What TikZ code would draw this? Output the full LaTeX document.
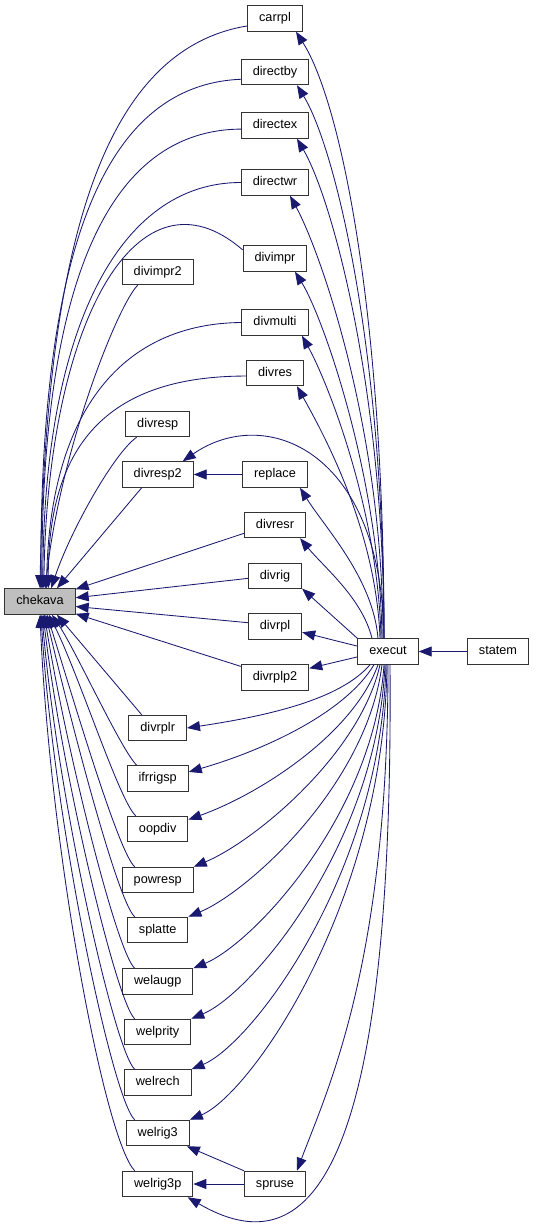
\documentclass[tikz,border=0pt]{standalone}
\usepackage{fontspec}
\setmainfont{Liberation Sans}
\usetikzlibrary{arrows.meta}
\definecolor{edgeblue}{HTML}{191970}
\definecolor{focusgray}{HTML}{BFBFBF}

\begin{document}
\begin{tikzpicture}[x=1pt,y=-1pt,
  fn/.style={draw=black!80,line width=1pt,fill=white,minimum height=25.5pt,
    inner xsep=11.5pt,inner ysep=0pt,text height=9pt,text depth=2.5pt,
    font=\fontsize{12.7}{14}\selectfont},
  call/.style={draw=edgeblue,line width=0.85pt,-{Triangle[length=13pt,width=10pt,color=edgeblue]}}]
\useasboundingbox (0,0) rectangle (535,1230);
% functions
\node[fn,fill=focusgray] (chekava) at (40,601.5) {chekava};
\node[fn] (carrpl) at (275,18.5) {carrpl};
\node[fn] (directby) at (275,72) {directby};
\node[fn] (directex) at (275,125.5) {directex};
\node[fn] (directwr) at (275,182.5) {directwr};
\node[fn] (divimpr) at (275,258.5) {divimpr};
\node[fn] (divimpr2) at (157.7,272) {divimpr2};
\node[fn] (divmulti) at (275,322.5) {divmulti};
\node[fn] (divres) at (275,373) {divres};
\node[fn] (divresp) at (157.7,424) {divresp};
\node[fn] (divresp2) at (157.7,474.5) {divresp2};
\node[fn] (replace) at (275,474.5) {replace};
\node[fn] (divresr) at (275,525) {divresr};
\node[fn] (divrig) at (275,576) {divrig};
\node[fn] (divrpl) at (275,626.5) {divrpl};
\node[fn] (execut) at (388,651.5) {execut};
\node[fn] (statem) at (498,651.5) {statem};
\node[fn] (divrplp2) at (275,677.5) {divrplp2};
\node[fn] (divrplr) at (157.7,728) {divrplr};
\node[fn] (ifrrigsp) at (157.7,778.5) {ifrrigsp};
\node[fn] (oopdiv) at (157.7,829) {oopdiv};
\node[fn] (powresp) at (157.7,880) {powresp};
\node[fn] (splatte) at (157.7,930) {splatte};
\node[fn] (welaugp) at (157.7,981.5) {welaugp};
\node[fn] (welprity) at (157.7,1032) {welprity};
\node[fn] (welrech) at (157.7,1082.5) {welrech};
\node[fn] (welrig3) at (157.7,1133) {welrig3};
\node[fn] (welrig3p) at (157.7,1184) {welrig3p};
\node[fn] (spruse) at (275,1184) {spruse};
% callers of chekava
\draw[call] (carrpl.195) .. controls +(-146,24) and +(6,-339) .. (chekava.90);
\draw[call] (directby.192) .. controls +(-141,6) and +(-1,-329) .. (chekava.86);
\draw[call] (directex.186) .. controls +(-131,1) and +(0,-309) .. (chekava.82);
\draw[call] (directwr.west) .. controls +(-122,0) and +(1,-259) .. (chekava.78);
\draw[call] (divimpr.165) .. controls +(-104,-90) and +(4,-269) .. (chekava.74);
\draw[call] ([xshift=-20]divimpr2.south) .. controls +(-20,20) and +(15,-139) .. (chekava.68);
\draw[call] (divmulti.west) .. controls +(-118,1) and +(4,-179) .. (chekava.64);
\draw[call] (divres.186) .. controls +(-133,0) and +(0,-149) .. (chekava.58);
\draw[call] ([xshift=-21]divresp.south) .. controls +(-22,15) and +(20,-59) .. (chekava.50);
\draw[call] ([xshift=-16]divresp2.south) -- (chekava.38);
\draw[call] (divresr.195) -- (chekava.19);
\draw[call] (divrig.185) -- (chekava.6);
\draw[call] (divrpl.172) -- (chekava.-8);
\draw[call] (divrplp2.162) -- (chekava.-19);
\draw[call] ([xshift=-16]divrplr.north) -- (chekava.-38);
\draw[call] ([xshift=-21]ifrrigsp.north) .. controls +(-16,-16) and +(24,36) .. (chekava.-48);
\draw[call] ([xshift=-22]oopdiv.north) .. controls +(-16,-14) and +(30,60) .. (chekava.-56);
\draw[call] ([xshift=-23]powresp.north) .. controls +(-16,-14) and +(28,90) .. (chekava.-62);
\draw[call] ([xshift=-23]splatte.north) .. controls +(-17,-15) and +(26,110) .. (chekava.-67);
\draw[call] ([xshift=-23]welaugp.north) .. controls +(-18,-16) and +(22,135) .. (chekava.-72);
\draw[call] ([xshift=-23]welprity.north) .. controls +(-18,-16) and +(19,160) .. (chekava.-77);
\draw[call] ([xshift=-23]welrech.north) .. controls +(-20,-18) and +(16,185) .. (chekava.-82);
\draw[call] ([xshift=-23]welrig3.north) .. controls +(-22,-20) and +(13,210) .. (chekava.-86);
\draw[call] ([xshift=-23]welrig3p.north) .. controls +(-30,-31) and +(10,236) .. (chekava.-90);
% callers reached from execut
\draw[call] ([xshift=-4]execut.north) .. controls +(0,-330) and +(44,69) .. ([xshift=21]carrpl.south);
\draw[call] ([xshift=-4]execut.north) .. controls +(0,-290) and +(38,62) .. ([xshift=22]directby.south);
\draw[call] ([xshift=-4]execut.north) .. controls +(0,-250) and +(35,60) .. ([xshift=22]directex.south);
\draw[call] ([xshift=-5]execut.north) .. controls +(0,-210) and +(30,55) .. ([xshift=15]directwr.south);
\draw[call] ([xshift=-6]execut.north) .. controls +(-2,-160) and +(28,45) .. ([xshift=20]divimpr.south);
\draw[call] ([xshift=-7]execut.north) .. controls +(-3,-130) and +(25,45) .. ([xshift=27]divmulti.south);
\draw[call] ([xshift=-8]execut.north) .. controls +(-4,-110) and +(25,45) .. ([xshift=22]divres.south);
\draw[call] ([xshift=-4]execut.north) .. controls +(-2,-189) and +(82,-57) .. ([xshift=25]divresp2.north);
\draw[call] ([xshift=-10]execut.north) .. controls +(-5,-60) and +(25,40) .. ([xshift=25]replace.south);
\draw[call] ([xshift=-16]execut.north) .. controls +(-10,-40) and +(25,30) .. ([xshift=25]divresr.south);
\draw[call] (execut.north west) -- (divrig.-25);
\draw[call] (execut.170) -- (divrpl.-12);
\draw[call] (execut.190) -- (divrplp2.15);
\draw[call] ([xshift=-18]execut.south) .. controls +(-30,35) and +(80,-12) .. (divrplr.east);
\draw[call] ([xshift=-14]execut.south) .. controls +(-30,50) and +(70,-20) .. (ifrrigsp.12);
\draw[call] ([xshift=-10]execut.south) .. controls +(-25,70) and +(70,-25) .. (oopdiv.17);
\draw[call] ([xshift=-8]execut.south) .. controls +(-20,90) and +(60,-25) .. (powresp.north east);
\draw[call] ([xshift=-6]execut.south) .. controls +(-15,120) and +(60,-25) .. (splatte.north east);
\draw[call] ([xshift=-4]execut.south) .. controls +(-10,150) and +(60,-25) .. (welaugp.north east);
\draw[call] ([xshift=-3]execut.south) .. controls +(-8,180) and +(60,-25) .. (welprity.north east);
\draw[call] ([xshift=-2]execut.south) .. controls +(-5,210) and +(60,-25) .. (welrech.north east);
\draw[call] ([xshift=-1]execut.south) .. controls +(-3,240) and +(60,-25) .. (welrig3.north east);
\draw[call] (execut.south) .. controls +(0,300) and +(30,-80) .. ([xshift=22]spruse.north);
\draw[call] ([xshift=2]execut.south) .. controls +(4,516) and +(120,70) .. ([xshift=30]welrig3p.south);
% remaining calls
\draw[call] (replace) -- (divresp2);
\draw[call] (statem) -- (execut);
\draw[call] (spruse) -- (welrig3p);
\draw[call] (spruse.north west) -- ([xshift=-3]welrig3.south east);
\end{tikzpicture}
\end{document}
